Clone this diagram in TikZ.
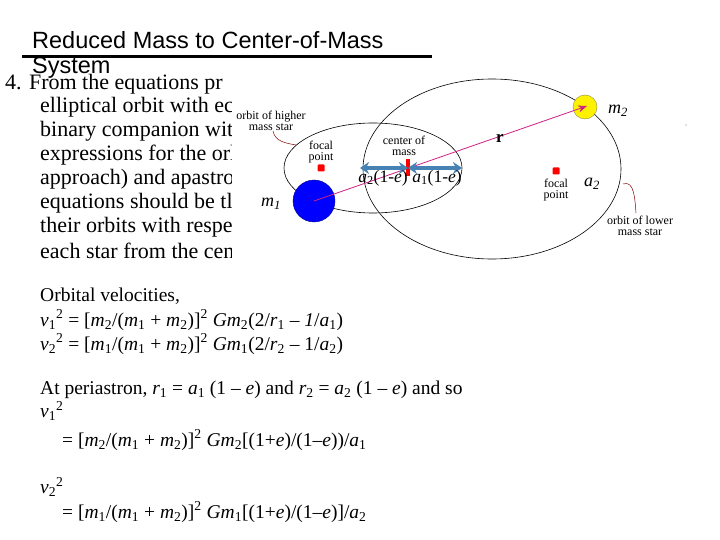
\documentclass[tikz,border=0pt]{standalone}
\usepackage{fontspec}
\setmainfont{Liberation Serif}
\newfontfamily\titlefont{Liberation Sans}
\usetikzlibrary{arrows.meta}
\newcommand{\lo}[1]{\textsubscript{#1}}
\newcommand{\hi}[1]{\textsuperscript{#1}}
\newcommand{\iv}[1]{\textit{#1}}
\definecolor{steel}{RGB}{70,130,180}
\begin{document}
\begin{tikzpicture}[x=1pt,y=-1pt,
  para/.style={anchor=west,inner sep=0pt,font=\fontsize{22}{24}\selectfont},
  eq/.style={anchor=west,inner sep=0pt,font=\fontsize{19.5}{22}\selectfont},
  small/.style={inner sep=0pt,align=center,font=\fontsize{12}{11}\selectfont},
  dot/.style={fill=red,inner sep=0pt,minimum size=7pt,rounded corners=1pt},
  dbl/.style={{Stealth[length=9pt,width=12pt]}-{Stealth[length=9pt,width=12pt]},line width=4pt,draw=steel}]
\useasboundingbox (0,0) rectangle (720,540);
\fill[white] (0,0) rectangle (720,540);
% title
\node[anchor=west,inner sep=0pt,font=\titlefont\fontsize{23.5}{26}\selectfont] (t1) at (32,40) {Reduced Mass to Center-of-Mass};
\node[anchor=west,inner sep=0pt,font=\titlefont\fontsize{23.5}{26}\selectfont] (t2) at (32,68) {System};
\draw[line width=3pt] (22,57) -- (432,57);
% paragraph
\node[para] (p1) at (5,84) {4. From the equations pr};
\node[para] (p2) at (40,107) {elliptical orbit with ec};
\node[para] (p3) at (40,131) {binary companion wit};
\node[para] (p4) at (40,155) {expressions for the orl};
\node[para] (p5) at (40,179) {approach) and apastro};
\node[para] (p6) at (40,203) {equations should be tl};
\node[para] (p7) at (40,227) {their orbits with respe};
\node[para] (p8) at (40,251) {each star from the cen};
% equations
\node[eq] (e1) at (40,296) {Orbital velocities,};
\node[eq] (e2) at (40,320) {\iv{v}\lo{1}\hi{2} = [\iv{m}\lo{2}/(\iv{m}\lo{1} + \iv{m}\lo{2})]\hi{2} \iv{Gm}\lo{2}(2/\iv{r}\lo{1} -- \iv{1}/\iv{a}\lo{1})};
\node[eq] (e3) at (40,344) {\iv{v}\lo{2}\hi{2} = [\iv{m}\lo{1}/(\iv{m}\lo{1} + \iv{m}\lo{2})]\hi{2} \iv{Gm}\lo{1}(2/\iv{r}\lo{2} -- 1/\iv{a}\lo{2})};
\node[eq] (e4) at (40,390) {At periastron, \iv{r}\lo{1} = \iv{a}\lo{1} (1 -- \iv{e}) and \iv{r}\lo{2} = \iv{a}\lo{2} (1 -- \iv{e}) and so};
\node[eq] (e5) at (40,411) {\iv{v}\lo{1}\hi{2}};
\node[eq] (e6) at (62,440) {= [\iv{m}\lo{2}/(\iv{m}\lo{1} + \iv{m}\lo{2})]\hi{2} \iv{Gm}\lo{2}[(1+\iv{e})/(1--\iv{e}))/\iv{a}\lo{1}};
\node[eq] (e7) at (40,487) {\iv{v}\lo{2}\hi{2}};
\node[eq] (e8) at (62,512) {= [\iv{m}\lo{1}/(\iv{m}\lo{1} + \iv{m}\lo{2})]\hi{2} \iv{Gm}\lo{1}[(1+\iv{e})/(1--\iv{e})]/\iv{a}\lo{2}};
% diagram
\fill[white] (232,62) rectangle (720,270);
\draw[line width=0.6pt] (373,168) ellipse [x radius=89, y radius=45];
\draw[line width=0.6pt] (492,169) ellipse [x radius=129, y radius=90];
\node[circle,fill=blue,draw=blue!60!black,minimum size=42pt,inner sep=0pt] (m1s) at (314,201) {};
\node[circle,fill=yellow,draw=yellow!50!black,minimum size=24pt,inner sep=0pt] (m2s) at (585,107) {};
\coordinate (c1) at (314,201);
\coordinate (c2) at (587,106);
\draw[magenta!70!violet,line width=0.8pt,-{Stealth[length=9pt,width=7pt]}] (c1) -- (c2);
\node[dot] (f1) at (321,168) {};
\node[dot] (f2) at (556,171) {};
\node[fill=red,inner sep=0pt,minimum width=4pt,minimum height=17pt] (cm) at (408,168) {};
\coordinate (la) at (360,168);
\coordinate (ra) at (462,168);
\draw[dbl] (la) -- (cm.center);
\draw[dbl] (cm.center) -- (ra);
\node[font=\bfseries\fontsize{17}{17}\selectfont,inner sep=0pt] (r) at (500,138) {r};
\node[font=\itshape\fontsize{18}{18}\selectfont,inner sep=0pt] (m2) at (618,111) {m\lo{2}};
\node[font=\itshape\fontsize{18}{18}\selectfont,inner sep=0pt] (m1) at (271,204) {m\lo{1}};
\node[font=\itshape\fontsize{18}{18}\selectfont,inner sep=0pt] (a2) at (592,184) {a\lo{2}};
\node[font=\fontsize{17.5}{17}\selectfont,inner sep=0pt] (l2) at (383,178) {\iv{a}\lo{2}(1-\iv{e})};
\node[font=\fontsize{17.5}{17}\selectfont,inner sep=0pt] (l1) at (437,178) {\iv{a}\lo{1}(1-\iv{e})};
\node[small] (com) at (404,146) {center of\\mass};
\node[small] (fp1) at (321,152) {focal\\point};
\node[small] (fp2) at (556,190) {focal\\point};
\node[small] (oh) at (271,121) {orbit of higher\\mass star};
\node[small] (ol) at (640,226) {orbit of lower\\mass star};
\draw[red!50!black,line width=0.5pt] (273,131) coordinate (oha) to[out=-80,in=170] (296,145) coordinate (ohb);
\draw[red!50!black,line width=0.5pt] (623,184) coordinate (ola) to[out=20,in=95] (636,213) coordinate (olb);
\fill[gray] (686,125) circle (0.6pt);
\end{tikzpicture}
\end{document}
